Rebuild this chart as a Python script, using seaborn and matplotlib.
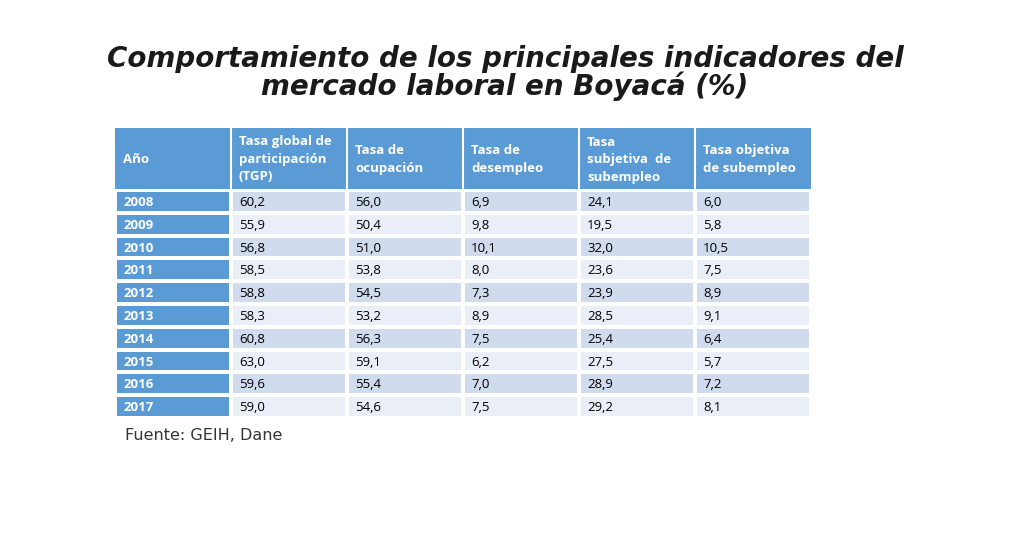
import matplotlib
matplotlib.use("Agg")
import matplotlib.pyplot as plt
from matplotlib.colors import ListedColormap
from matplotlib.patches import Rectangle
import seaborn as sns
import numpy as np

headers = ["Año", "Tasa global de\nparticipación\n(TGP)", "Tasa de\nocupación", "Tasa de\ndesempleo",
           "Tasa\nsubjetiva  de\nsubempleo", "Tasa objetiva\nde subempleo"]
years = ["2008", "2009", "2010", "2011", "2012", "2013", "2014", "2015", "2016", "2017"]
tgp = ["60,2", "55,9", "56,8", "58,5", "58,8", "58,3", "60,8", "63,0", "59,6", "59,0"]
ocup = ["56,0", "50,4", "51,0", "53,8", "54,5", "53,2", "56,3", "59,1", "55,4", "54,6"]
desemp = ["6,9", "9,8", "10,1", "8,0", "7,3", "8,9", "7,5", "6,2", "7,0", "7,5"]
subj = ["24,1", "19,5", "32,0", "23,6", "23,9", "28,5", "25,4", "27,5", "28,9", "29,2"]
obj = ["6,0", "5,8", "10,5", "7,5", "8,9", "9,1", "6,4", "5,7", "7,2", "8,1"]

W, H = 1012, 545
fig = plt.figure(figsize=(W / 100, H / 100), dpi=100)
bg = fig.add_axes([0, 0, 1, 1])
bg.set_xlim(0, W); bg.set_ylim(H, 0); bg.axis("off")

x0, x1 = 115, 811
hy0, hy1 = 128, 189
by0, by1 = 190, 418
ncol, nrow = 6, len(years)
cw = (x1 - x0) / ncol
rh = (by1 - by0) / nrow

# body via seaborn heatmap
body = fig.add_axes([x0 / W, 1 - by1 / H, (x1 - x0) / W, (by1 - by0) / H])
codes = np.array([[2] + [r % 2] * 5 for r in range(nrow)])
cmap = ListedColormap(["#D0DBEE", "#E9EEF7", "#5B9BD5"])
sns.heatmap(codes, ax=body, cmap=cmap, vmin=-0.5, vmax=2.5, cbar=False,
            linewidths=1.5, linecolor="white", xticklabels=False, yticklabels=False)
body.axis("off")
cols = [years, tgp, ocup, desemp, subj, obj]
for c, vals in enumerate(cols):
    for r, v in enumerate(vals):
        body.text(c + 0.07, r + 0.55, v, ha="left", va="center",
                  fontsize=9.5, family="Open Sans",
                  color="white" if c == 0 else "black",
                  fontweight="bold" if c == 0 else "normal")

# header
bg.add_patch(Rectangle((x0, hy0), x1 - x0, hy1 - hy0, color="#5B9BD5", lw=0))
for c in range(1, ncol):
    bg.plot([x0 + c * cw] * 2, [hy0, hy1], color="white", lw=1.5)
for c, h in enumerate(headers):
    bg.text(x0 + c * cw + 8, (hy0 + hy1) / 2 + 1, h, ha="left", va="center",
            fontsize=9.5, family="Open Sans", color="white", fontweight="bold",
            linespacing=1.45)

bg.text(505, 73, "Comportamiento de los principales indicadores del\nmercado laboral en Boyacá (%)",
        ha="center", va="center", fontsize=20, fontweight="bold", style="italic",
        family="DejaVu Sans", color="#1a1a1a", linespacing=0.95)
bg.text(125, 435, "Fuente: GEIH, Dane", ha="left", va="center", fontsize=11.5,
        family="DejaVu Sans", color="#333333")

fig.savefig("out.png", dpi=100)
